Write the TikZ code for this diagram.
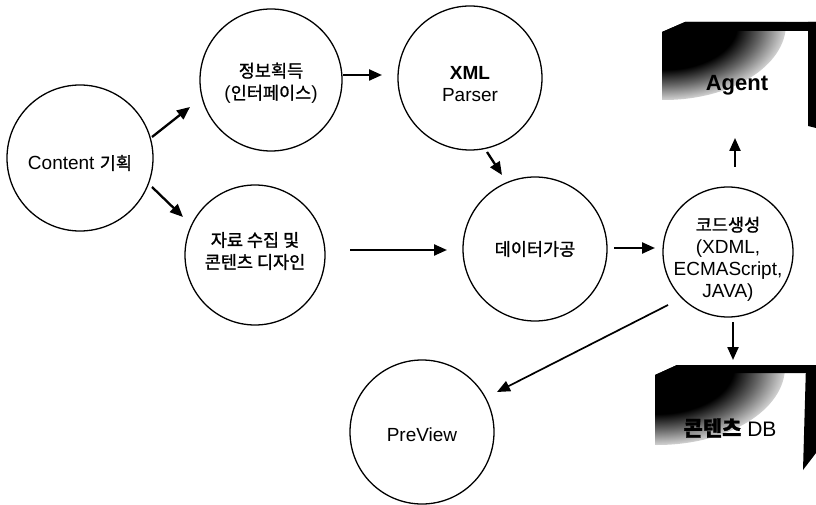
\documentclass[tikz,border=0pt]{standalone}
\usepackage{fontspec}
\setmainfont{Liberation Sans}
\newfontfamily\kr[FakeBold=1.2]{Noto Sans CJK KR}
\usetikzlibrary{arrows.meta,calc}
\newcommand\K[1]{{\kr\fontsize{17.5}{22}\selectfont #1}}
\pgfdeclareradialshading{boxshade}{\pgfpoint{0bp}{0bp}}{color(0bp)=(black); color(15bp)=(black); color(20bp)=(black!60); color(27bp)=(white); color(50bp)=(white)}
\tikzset{
  ball/.style={circle, draw, line width=1.3pt, inner sep=0pt, minimum size=#1},
  txt/.style={align=center, font=\fontsize{19}{22}\selectfont},
  arr/.style={line width=2.3pt, -{Triangle[length=13pt,width=11pt]}},
  thinarr/.style={line width=1.7pt, -{Triangle[length=13pt,width=11pt]}},
  boxnode/.style={rectangle, draw=none, inner sep=0pt},
}
\begin{document}
\begin{tikzpicture}[x=1pt,y=1pt]
\useasboundingbox (0,0) rectangle (816,504);
\fill[white] (0,0) rectangle (816,504);

% circles
\node[ball=146, label={[txt,yshift=-5pt]center:{Content \K{기획}}}] (cont) at (80,346) {};
\node[ball=142, label={[txt,yshift=-3pt]center:{\K{정보획득}\\(\K{인터페이스})}}] (info) at (271,424) {};
\node[ball=140, label={[txt,yshift=4pt]center:{\K{자료 수집 및}\\\K{콘텐츠 디자인}}}] (data) at (255,249) {};
\node[ball=144, label={[txt,yshift=-6pt]center:{\textbf{XML}\\Parser}}] (xml) at (470,426) {};
\node[ball=144, label={[txt]center:{\K{데이터가공}}}] (proc) at (535,255) {};
\node[ball=130, label={[txt,yshift=-7pt]center:{\K{코드생성}\\(XDML,\\ECMAScript,\\JAVA)}}] (code) at (728,252) {};
\node[ball=144, label={[txt,yshift=-3pt]center:{PreView}}] (prev) at (422,72) {};

% Agent box
\node[boxnode, minimum width=154, minimum height=106] (agent) at (739,429) {};
\begin{scope}
  \clip (662,376) -- (662,472) -- (685,482) -- (816,482) -- (816,376) -- cycle;
  \shade[shading=boxshade] (664,480) ellipse (122 and 76);
\end{scope}
\fill (662,472) -- (685,482) -- (816,482) -- (816,473) -- (685,473) -- (662,463) -- cycle;
\fill (808,482) -- (816,482) -- (816,376) -- (808,378) -- cycle;
\node[font=\bfseries\fontsize{22}{24}\selectfont] (agentlbl) at (737,419) {Agent};

% DB box
\node[boxnode, minimum width=161, minimum height=107] (db) at (735.5,85.5) {};
\begin{scope}
  \clip (655,34) -- (655,129) -- (677,139) -- (816,139) -- (816,34) -- cycle;
  \shade[shading=boxshade] (657,137) ellipse (128 and 78);
\end{scope}
\fill (655,129) -- (677,139) -- (816,139) -- (816,131) -- (677,131) -- (655,121) -- cycle;
\fill (806,139) -- (816,139) -- (816,51) -- (803,34) -- cycle;
\node[font=\fontsize{21}{24}\selectfont] (dblbl) at (730,76) {{\kr\bfseries\fontsize{21}{24}\selectfont 콘텐츠} DB};

% connectors
\draw[arr] ($(cont)+(72,21)$) -- ($(info)+(-81,-27)$);
\draw[arr] ($(cont)+(72,-29)$) -- ($(data)+(-72,38)$);
\draw[arr] ($(info)+(72,5)$) -- ($(xml)+(-88,3)$);
\draw[arr] ($(xml)+(17,-74)$) -- ($(proc)+(-33,74)$);
\draw[arr] ($(data)+(95,5)$) -- ($(proc)+(-88,-1)$);
\draw[arr] ($(proc)+(79,1)$) -- ($(code)+(-73,4)$);
\draw[arr] ($(code)+(7,85)$) -- ($(agent)+(-4,-63)$);
\draw[arr] ($(code)+(5,-70)$) -- ($(db)+(-2.5,58.5)$);
\draw[thinarr] ($(code)+(-60,-53)$) -- ($(prev)+(75,40)$);
\end{tikzpicture}
\end{document}
